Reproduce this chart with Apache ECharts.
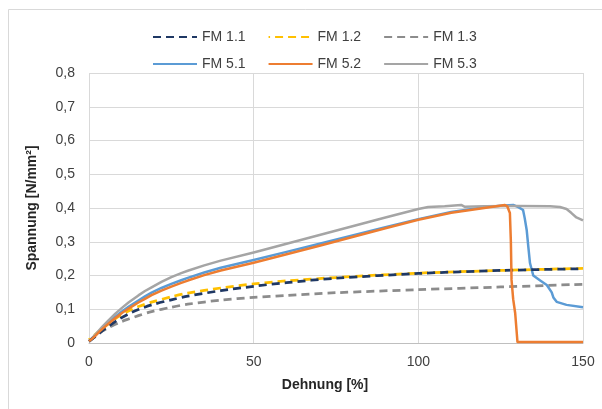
<!DOCTYPE html>
<html>
<head>
<meta charset="utf-8">
<script src="https://cdn.jsdelivr.net/npm/echarts@6/dist/echarts.min.js"></script>
<style>html,body{margin:0;padding:0;background:#fff}#c{width:602px;height:409px}</style>
</head>
<body>
<div id="c"></div>
<script>
// Data
var names = ['FM 1.1', 'FM 1.2', 'FM 1.3', 'FM 5.1', 'FM 5.2', 'FM 5.3'];

var fm11X = [0, 2, 4, 6, 9, 12, 15, 19, 25, 30, 40, 50, 60, 75, 100, 125, 150];
var fm11Y = [0.005, 0.02, 0.036, 0.05, 0.07, 0.086, 0.099, 0.113, 0.128, 0.139, 0.155, 0.168, 0.179, 0.192, 0.206, 0.215, 0.22];

var fm12X = [0, 2, 4, 6, 9, 12, 15, 19, 25, 30, 40, 50, 60, 75, 100, 125, 150];
var fm12Y = [0.01, 0.026, 0.043, 0.057, 0.079, 0.095, 0.108, 0.121, 0.137, 0.148, 0.163, 0.175, 0.184, 0.194, 0.207, 0.215, 0.221];

var fm13X = [0, 2, 4, 6, 9, 12, 15, 19, 25, 30, 40, 50, 60, 75, 100, 125, 150];
var fm13Y = [0.005, 0.02, 0.035, 0.046, 0.06, 0.071, 0.081, 0.093, 0.106, 0.115, 0.127, 0.135, 0.141, 0.149, 0.158, 0.166, 0.174];

var fm51X = [0, 1, 2, 3, 4, 6, 8, 10, 12, 15, 17, 19, 22, 25, 28, 30, 35, 40, 50, 60, 70, 80, 90, 100, 110, 120, 125, 128.8, 130.5, 131.8, 132.3, 132.9, 133.4, 133.9, 134.9, 137, 139, 140.5, 141, 142, 145, 150];
var fm51Y = [0.005, 0.014, 0.023, 0.033, 0.043, 0.061, 0.078, 0.093, 0.107, 0.126, 0.138, 0.149, 0.163, 0.175, 0.186, 0.193, 0.209, 0.223, 0.246, 0.27, 0.294, 0.319, 0.343, 0.367, 0.388, 0.402, 0.407, 0.409, 0.402, 0.394, 0.37, 0.335, 0.285, 0.237, 0.2, 0.185, 0.172, 0.15, 0.135, 0.122, 0.113, 0.106];

var fm52X = [0, 1, 2, 3, 4, 6, 8, 10, 12, 15, 17, 19, 22, 25, 28, 30, 35, 40, 50, 60, 70, 80, 90, 100, 110, 120, 126.3, 127, 127.8, 128.1, 128.3, 128.8, 129.4, 129.8, 130.1, 150];
var fm52Y = [0.005, 0.013, 0.022, 0.032, 0.041, 0.058, 0.074, 0.089, 0.102, 0.12, 0.131, 0.142, 0.155, 0.167, 0.178, 0.185, 0.201, 0.215, 0.238, 0.263, 0.288, 0.314, 0.34, 0.365, 0.386, 0.4, 0.409, 0.405, 0.385, 0.3, 0.187, 0.13, 0.089, 0.04, 0.003, 0.003];

var fm53X = [0, 1, 2, 3, 4, 6, 8, 10, 12, 15, 17, 19, 22, 25, 28, 30, 35, 40, 50, 60, 70, 80, 90, 100, 103, 108, 113, 114, 120, 130, 140, 143, 145, 146.5, 148, 150];
var fm53Y = [0.005, 0.015, 0.026, 0.037, 0.048, 0.068, 0.087, 0.104, 0.12, 0.141, 0.154, 0.165, 0.181, 0.195, 0.207, 0.214, 0.23, 0.244, 0.268, 0.294, 0.32, 0.346, 0.372, 0.397, 0.403, 0.405, 0.409, 0.404, 0.405, 0.406, 0.405, 0.403, 0.397, 0.385, 0.372, 0.363];

var xTicks = [0, 50, 100, 150];
var yTicks = [0, 0.1, 0.2, 0.3, 0.4, 0.5, 0.6, 0.7, 0.8];

function pairs(xs, ys) { return xs.map(function (x, i) { return [x, ys[i]]; }); }

var colors = ['#1F3864', '#FFC000', '#8C8C8C', '#5B9BD5', '#ED7D31', '#A5A5A5'];
var dataSets = [pairs(fm11X, fm11Y), pairs(fm12X, fm12Y), pairs(fm13X, fm13Y), pairs(fm51X, fm51Y), pairs(fm52X, fm52Y), pairs(fm53X, fm53Y)];
var dashed = [true, true, true, false, false, false];
var dashOffsets = [0, 6.5, 0, 0, 0, 0];
var zs = [3, 2, 2, 2, 3, 2];

var series = names.map(function (n, i) {
  return {
    name: n,
    type: 'line',
    data: dataSets[i],
    showSymbol: false,
    symbol: 'none',
    smooth: dashed[i] ? 0.3 : false,
    z: zs[i],
    lineStyle: {
      color: colors[i],
      width: dashed[i] ? 2.75 : 2.5,
      type: dashed[i] ? [8, 5] : 'solid',
      dashOffset: dashOffsets[i],
      cap: 'butt',
      join: 'round'
    },
    itemStyle: { color: colors[i] },
    emphasis: { disabled: true },
    animation: false
  };
});

var chart = echarts.init(document.getElementById('c'), null, { renderer: 'canvas' });
var legendText = { fontFamily: 'Liberation Sans, Arial, sans-serif', fontSize: 14, color: '#404040' };
var legendIconStyle = { color: 'rgba(0,0,0,0)', borderWidth: 0, opacity: 0 };
chart.setOption({
  animation: false,
  backgroundColor: '#fff',
  textStyle: { fontFamily: 'Liberation Sans, Arial, sans-serif' },
  graphic: [{
    type: 'rect', silent: true,
    shape: { x: 8.5, y: 9.5, width: 700, height: 600 },
    style: { fill: 'none', stroke: '#d9d9d9', lineWidth: 1 }
  }],
  legend: [{
    data: names.slice(0, 3), left: 147, top: 25,
    itemWidth: 44, itemHeight: 14, itemGap: 22,
    itemStyle: legendIconStyle,
    textStyle: legendText, selectedMode: false
  }, {
    data: names.slice(3), left: 147, top: 52,
    itemWidth: 44, itemHeight: 14, itemGap: 22,
    itemStyle: legendIconStyle,
    textStyle: legendText, selectedMode: false
  }],
  grid: { left: 89, right: 19, top: 73, bottom: 66, containLabel: false },
  xAxis: {
    type: 'value', min: xTicks[0], max: xTicks[xTicks.length - 1], interval: 50,
    name: 'Dehnung [%]', nameLocation: 'middle', nameGap: 35,
    nameTextStyle: { fontWeight: 'bold', fontSize: 14, color: '#262626', padding: [0, 22, 0, 0] },
    axisLine: { show: true, lineStyle: { color: '#bfbfbf', width: 1 } },
    axisTick: { show: false },
    axisLabel: { fontSize: 14, color: '#404040', margin: 12 },
    splitLine: { show: true, lineStyle: { color: '#d9d9d9', width: 1 } }
  },
  yAxis: {
    type: 'value', min: yTicks[0], max: yTicks[yTicks.length - 1], interval: 0.1,
    name: 'Spannung [N/mm²]', nameLocation: 'middle', nameGap: 50,
    nameTextStyle: { fontWeight: 'bold', fontSize: 14, color: '#262626' },
    axisLine: { show: false },
    axisTick: { show: false },
    axisLabel: {
      fontSize: 14, color: '#404040', margin: 14,
      formatter: function (v) { return (Math.round(v * 10) / 10).toString().replace('.', ','); }
    },
    splitLine: { show: true, lineStyle: { color: '#d9d9d9', width: 1 } }
  },
  series: series
});
</script>
</body>
</html>
